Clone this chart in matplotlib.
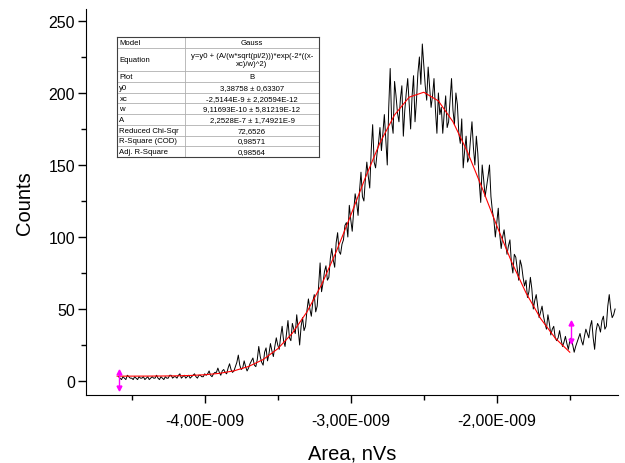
import numpy as np
import matplotlib
matplotlib.use("Agg")
import matplotlib.pyplot as plt
from matplotlib.ticker import MultipleLocator, FixedLocator, FuncFormatter

plt.rcParams['font.family'] = ['Liberation Sans', 'DejaVu Sans']

# histogram counts, bins every 0.01 nVs from -4.59 to -1.19 (x1e-9)
# counts_even: bins -4.59, -4.57, ... ; counts_odd: bins -4.58, -4.56, ...
x_start = -4.59
x_step = 0.01
counts_even = [3, 1, 2, 4, 2, 1, 2, 3, 2, 1, 3, 2, 2, 4, 1, 2, 3, 2, 4, 3,
               2, 5, 3, 2, 4, 3, 5, 2, 4, 3,
               4, 7, 3, 6, 9, 4, 8, 5, 12, 6, 10, 18, 8, 14, 7, 12, 16, 10, 24, 13,
               20, 14, 26, 17, 30, 22, 38, 24, 42, 28, 36, 46, 25, 44, 38, 57, 45, 60, 52, 82,
               68, 80, 72, 92, 79, 103, 88, 98, 110, 122, 104, 130, 115, 145, 125, 152, 134, 178, 148, 165,
               160, 185, 150, 217, 172, 198, 180, 205, 188, 210, 175, 212, 195, 225, 234, 205, 218, 190, 210, 172,
               185, 172, 198, 180, 210, 178, 192, 165, 148, 170, 155, 180, 150, 158, 124, 140, 135, 150, 118, 100,
               120, 92, 105, 88, 98, 75, 86, 70, 80, 66, 58, 72, 50, 60, 44, 52, 40, 46, 32, 38,
               28, 35, 24, 31, 22, 30, 20, 27, 33, 25, 36, 30, 42, 22, 40, 34, 45, 38, 60, 44, 50]
counts_odd = [2, 3, 1, 3, 2, 3, 1, 2, 3, 2, 1, 3, 2, 2, 3, 1, 2, 4, 2, 3,
              4, 2, 4, 3, 2, 4, 3, 4, 3, 5,
              5, 4, 5, 6, 6, 7, 6, 9, 8, 7, 13, 11, 9, 10, 9, 14, 11, 15, 17, 11,
              23, 19, 21, 24, 25, 31, 28, 33, 30, 40, 33, 36, 38, 35, 49, 50, 55, 48, 66, 62,
              76, 70, 85, 84, 96, 90, 95, 108, 100, 112, 118, 124, 132, 128, 140, 142, 160, 152, 158, 176,
              172, 168, 190, 180, 208, 186, 196, 170, 200, 192, 198, 180, 214, 206, 220, 195, 204, 198, 188, 200,
              190, 186, 176, 195, 188, 200, 172, 182, 160, 152, 168, 162, 170, 138, 150, 128, 142, 128, 112, 110,
              102, 100, 96, 94, 82, 88, 78, 84, 72, 70, 62, 64, 56, 52, 48, 45, 36, 40, 36, 30,
              30, 29, 27, 26, 28, 25, 24, 30, 28, 31, 33, 38, 30, 35, 38, 42, 36, 52, 50, 46]

# gauss fit curve read every 0.1 nVs from -4.6 to -1.5
fit_x = [-4.6, -4.5, -4.4, -4.3, -4.2, -4.1, -4.0, -3.9, -3.8, -3.7, -3.6,
         -3.5, -3.4, -3.3, -3.2, -3.1, -3.0, -2.9, -2.8, -2.7, -2.6, -2.5,
         -2.4, -2.3, -2.2, -2.1, -2.0, -1.9, -1.8, -1.7, -1.6, -1.5]
fit_y = [3.39, 3.40, 3.43, 3.48, 3.60, 3.85, 4.36, 5.33, 7.07, 10.1, 14.9,
         22.4, 33.2, 48.0, 66.9, 89.7, 115.1, 141.2, 165.4, 184.8, 197.1, 200.5,
         194.5, 180.0, 158.9, 133.9, 107.8, 83.0, 61.2, 43.4, 29.8, 20.0]

# fit range markers (x, y low, y high)
range_x = [-4.59, -1.49]
range_lo = [-5, 28]
range_hi = [6, 40]

table_labels = ["Model", "Equation", "Plot", "y0", "xc", "w", "A",
                "Reduced Chi-Sqr", "R-Square (COD)", "Adj. R-Square"]
table_values = ["Gauss", "y=y0 + (A/(w*sqrt(pi/2)))*exp(-2*((x-\nxc)/w)^2)", "B",
                "3,38758 \u00b1 0,63307", "-2,5144E-9 \u00b1 2,20594E-12",
                "9,11693E-10 \u00b1 5,81219E-12", "2,2528E-7 \u00b1 1,74921E-9",
                "72,6526", "0,98571", "0,98564"]
row_h = [1, 2.2, 1, 1, 1, 1, 1, 1, 1, 1]

counts = np.empty(len(counts_even) + len(counts_odd))
counts[0::2] = counts_even
counts[1::2] = counts_odd
x = (x_start + x_step * np.arange(len(counts))) * 1e-9

fig = plt.figure(figsize=(6.25, 4.64), dpi=100)
ax = fig.add_axes([86/625, 1-396/464, 532/625, 386/464])

ax.plot(x, counts, color='black', lw=0.7)
ax.plot(np.array(fit_x) * 1e-9, fit_y, color='red', lw=0.8)
for rx, lo, hi in zip(range_x, range_lo, range_hi):
    ax.plot([rx*1e-9, rx*1e-9], [lo, hi], color='magenta', lw=1)
    ax.plot([rx*1e-9], [hi], marker='^', color='magenta', ms=3.5)
    ax.plot([rx*1e-9], [lo], marker='v', color='magenta', ms=3.5)

ax.set_xlim(-4.813e-9, -1.17e-9)
ax.set_ylim(-9.7, 258.3)
ax.spines['top'].set_visible(False)
ax.spines['right'].set_visible(False)
ax.xaxis.set_major_locator(FixedLocator([-4e-9, -3e-9, -2e-9]))
ax.xaxis.set_minor_locator(FixedLocator([-4.5e-9, -3.5e-9, -2.5e-9, -1.5e-9]))
ax.yaxis.set_major_locator(MultipleLocator(50))
ax.yaxis.set_minor_locator(MultipleLocator(25))
ax.xaxis.set_major_formatter(FuncFormatter(
    lambda v, p: ("%.2f" % (v*1e9)).replace('.', ',') + "E-009"))
ax.tick_params(which='major', direction='out', length=6, width=1, labelsize=11.5)
ax.tick_params(which='minor', direction='out', length=3.5, width=1)
ax.tick_params(axis='x', pad=7)
ax.tick_params(axis='y', pad=2)
ax.set_xlabel("Area, nVs", fontsize=14.5, labelpad=11)
ax.set_ylabel("Counts", fontsize=14.5, labelpad=10)

# fit result table
tax = fig.add_axes([117/625, 1-158/464, 202/625, 120/464])
tax.set_xlim(0, 1)
tax.set_ylim(sum(row_h), 0)
tax.set_xticks([])
tax.set_yticks([])
for s in tax.spines.values():
    s.set_color('#404040')
    s.set_linewidth(0.8)
col = 0.337
tax.axvline(col, color='#b0b0b0', lw=0.6)
y0 = 0
for lab, val, h in zip(table_labels, table_values, row_h):
    tax.text(0.012, y0 + h/2, lab, fontsize=5.6, va='center', ha='left')
    tax.text((col + 1)/2, y0 + h/2, val, fontsize=5.6, va='center', ha='center',
             linespacing=1.0)
    y0 += h
    tax.axhline(y0, color='#b0b0b0', lw=0.6)

fig.savefig("out.png", dpi=100)
